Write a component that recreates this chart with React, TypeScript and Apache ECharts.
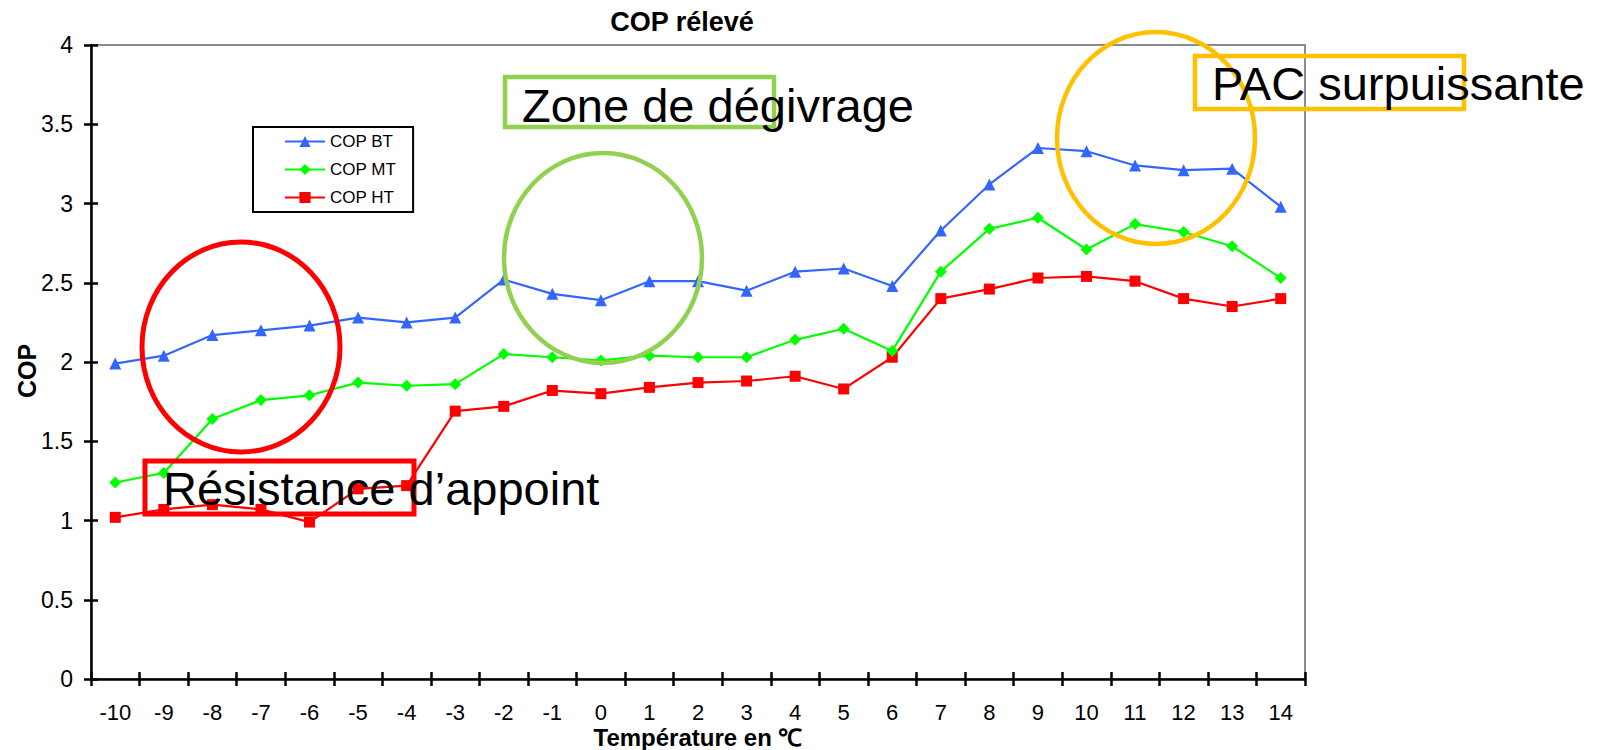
import React, { useEffect, useRef } from "react";
import * as echarts from "echarts";

const temperatures = ["-10", "-9", "-8", "-7", "-6", "-5", "-4", "-3", "-2", "-1", "0", "1", "2", "3", "4", "5", "6", "7", "8", "9", "10", "11", "12", "13", "14"];
const copBT = [1.99, 2.04, 2.17, 2.2, 2.23, 2.28, 2.25, 2.28, 2.52, 2.43, 2.39, 2.51, 2.51, 2.45, 2.57, 2.59, 2.48, 2.83, 3.12, 3.35, 3.33, 3.24, 3.21, 3.22, 2.98];
const copMT = [1.24, 1.3, 1.64, 1.76, 1.79, 1.87, 1.85, 1.86, 2.05, 2.03, 2.01, 2.04, 2.03, 2.03, 2.14, 2.21, 2.07, 2.57, 2.84, 2.91, 2.71, 2.87, 2.82, 2.73, 2.53];
const copHT = [1.02, 1.07, 1.1, 1.07, 0.99, 1.2, 1.22, 1.69, 1.72, 1.82, 1.8, 1.84, 1.87, 1.88, 1.91, 1.83, 2.03, 2.4, 2.46, 2.53, 2.54, 2.51, 2.4, 2.35, 2.4];
const seriesNames = ["COP BT", "COP MT", "COP HT"];

const FONT = "'Liberation Sans', Arial, sans-serif";

export default function App() {
  const ref = useRef<HTMLDivElement>(null);
  useEffect(() => {
    if (!ref.current) return;
    const chart = echarts.init(ref.current, undefined, { renderer: "svg" });
    const axisCommonX = {
      type: "category" as const,
      data: temperatures,
      boundaryGap: true,
    };
    chart.setOption({
      animation: false,
      backgroundColor: "#fff",
      textStyle: { fontFamily: FONT },
      title: {
        text: "COP rélevé",
        left: 682,
        top: 8,
        padding: 0,
        textAlign: "center",
        textStyle: { fontFamily: FONT, fontSize: 27, fontWeight: "bold", color: "#000" },
      },
      legend: {
        orient: "vertical",
        left: 253,
        top: 127,
        data: seriesNames,
        itemWidth: 40,
        itemHeight: 14,
        itemGap: 11,
        padding: [6, 17, 6, 31],
        borderColor: "#000",
        borderWidth: 2,
        textStyle: { fontFamily: FONT, fontSize: 17, color: "#000", lineHeight: 15 },
      },
      grid: {
        left: 91,
        right: 315,
        top: 45,
        bottom: 71,
        containLabel: false,
        outerBoundsMode: "none",
        show: true,
        borderColor: "#8c8c8c",
        borderWidth: 2,
      },
      xAxis: [
        {
          ...axisCommonX,
          name: "Température en ℃",
          nameLocation: "middle",
          nameGap: 46,
          nameMoveOverlap: false,
          nameTextStyle: { fontFamily: FONT, fontSize: 24, fontWeight: "bold", color: "#000", lineHeight: 24 },
          axisLine: { lineStyle: { color: "#000", width: 2.5 } },
          axisTick: { show: true, inside: false, length: 7, alignWithLabel: false, lineStyle: { color: "#000", width: 2.5 } },
          axisLabel: { fontFamily: FONT, fontSize: 22, color: "#000", margin: 22, interval: 0, lineHeight: 22 },
          splitLine: { show: false },
        },
        {
          ...axisCommonX,
          position: "bottom",
          axisLine: { show: false },
          axisTick: { show: true, inside: true, length: 7, lineStyle: { color: "#000", width: 2.5 } },
          axisLabel: { show: false },
          splitLine: { show: false },
        },
      ],
      yAxis: [
        {
          type: "value",
          min: 0,
          max: 4,
          interval: 0.5,
          name: "COP",
          nameLocation: "middle",
          nameGap: 52,
          nameMoveOverlap: false,
          nameRotate: 90,
          nameTextStyle: { fontFamily: FONT, fontSize: 25, fontWeight: "bold", color: "#000", padding: [0, 18, 0, 0] },
          axisLine: { show: true, lineStyle: { color: "#000", width: 2.5 } },
          axisTick: { show: true, inside: false, length: 7, lineStyle: { color: "#000", width: 2.5 } },
          axisLabel: { fontFamily: FONT, fontSize: 23, color: "#000", margin: 18 },
          splitLine: { show: false },
        },
        {
          type: "value",
          min: 0,
          max: 4,
          interval: 0.5,
          position: "left",
          axisLine: { show: false },
          axisTick: { show: true, inside: true, length: 7, lineStyle: { color: "#000", width: 2.5 } },
          axisLabel: { show: false },
          splitLine: { show: false },
        },
      ],
      series: [
        {
          name: seriesNames[0],
          type: "line",
          data: copBT,
          symbol: "triangle",
          symbolSize: 12,
          itemStyle: { color: "#3366ff" },
          lineStyle: { color: "#3366ff", width: 2.2 },
          z: 4,
        },
        {
          name: seriesNames[1],
          type: "line",
          data: copMT,
          symbol: "diamond",
          symbolSize: 12,
          itemStyle: { color: "#00ff00" },
          lineStyle: { color: "#00ff00", width: 2.2 },
          z: 3,
        },
        {
          name: seriesNames[2],
          type: "line",
          data: copHT,
          symbol: "rect",
          symbolSize: 11,
          itemStyle: { color: "#ff0000" },
          lineStyle: { color: "#ff0000", width: 2.2 },
          z: 2,
        },
      ],
      graphic: [
        { type: "ellipse", z: 100, shape: { cx: 241, cy: 347, rx: 99, ry: 105 }, style: { fill: "none", stroke: "#ff0000", lineWidth: 5 } },
        { type: "ellipse", z: 100, shape: { cx: 603, cy: 258, rx: 99, ry: 105 }, style: { fill: "none", stroke: "#92d050", lineWidth: 4.5 } },
        { type: "ellipse", z: 100, shape: { cx: 1156, cy: 138, rx: 99, ry: 106 }, style: { fill: "none", stroke: "#ffc000", lineWidth: 4.5 } },
        { type: "rect", z: 100, shape: { x: 505, y: 77, width: 269, height: 50 }, style: { fill: "none", stroke: "#92d050", lineWidth: 4.5 } },
        { type: "rect", z: 100, shape: { x: 1195, y: 56, width: 269, height: 53 }, style: { fill: "none", stroke: "#ffc000", lineWidth: 4.5 } },
        { type: "rect", z: 100, shape: { x: 145, y: 461, width: 269, height: 53 }, style: { fill: "none", stroke: "#ff0000", lineWidth: 5 } },
        { type: "text", z: 101, x: 522, y: 82, style: { text: "Zone de dégivrage", font: `47px ${FONT}`, fill: "#000" } },
        { type: "text", z: 101, x: 1212, y: 60, style: { text: "PAC surpuissante", font: `47px ${FONT}`, fill: "#000" } },
        { type: "text", z: 101, x: 163, y: 465, style: { text: "Résistance d’appoint", font: `47px ${FONT}`, fill: "#000" } },
      ],
    });
    return () => chart.dispose();
  }, []);
  return <div ref={ref} style={{ position: "absolute", left: 0, top: 0, width: 1620, height: 750 }} />;
}
